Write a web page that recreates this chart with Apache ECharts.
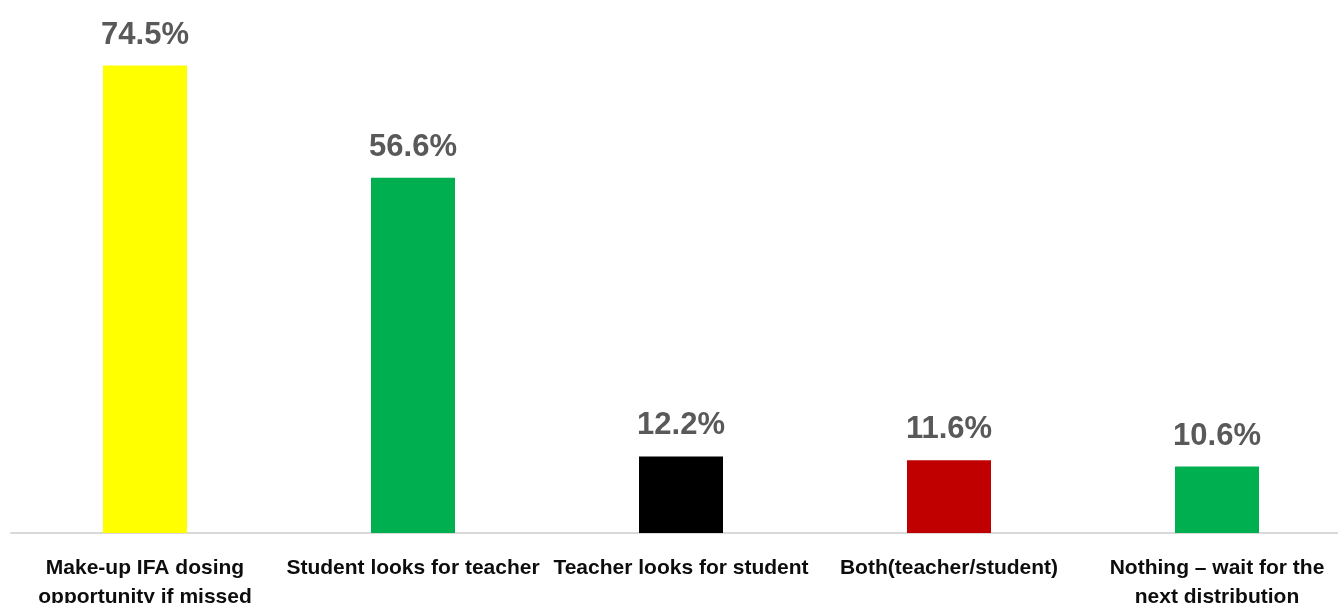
<!DOCTYPE html>
<html>
<head>
<meta charset="utf-8">
<script src="https://cdn.jsdelivr.net/npm/echarts@6/dist/echarts.min.js"></script>
<style>
  html, body { margin: 0; padding: 0; background: #ffffff; overflow: hidden; width: 1338px; height: 603px; }
  #chart { width: 1351px; height: 603px; }
</style>
</head>
<body>
<div id="chart"></div>
<script>
// Responses: what happens when an IFA dose is missed
const categories = [
  'Make-up IFA dosing\nopportunity if missed',
  'Student looks for teacher',
  'Teacher looks for student',
  'Both(teacher/student)',
  'Nothing \u2013 wait for the\nnext distribution'
];
const values = [74.5, 56.6, 12.2, 11.6, 10.6];
const barColors = ['#ffff00', '#00b050', '#000000', '#c00000', '#00b050'];

const chart = echarts.init(document.getElementById('chart'), null, { renderer: 'canvas' });

chart.setOption({
  animation: false,
  backgroundColor: '#ffffff',
  grid: { left: 11, top: 31, right: 0, height: 502, containLabel: false, outerBoundsMode: 'none' },
  xAxis: {
    type: 'category',
    data: categories,
    axisLine: { show: true, lineStyle: { color: '#d9d9d9', width: 2 } },
    axisTick: { show: false },
    axisLabel: {
      interval: 0,
      margin: 21,
      color: '#0d0d0d',
      fontFamily: 'Liberation Sans, Arial, sans-serif',
      fontWeight: 'bold',
      fontSize: 21,
      lineHeight: 29
    }
  },
  yAxis: {
    type: 'value',
    min: 0,
    max: 80,
    show: false,
    splitLine: { show: false }
  },
  series: [{
    type: 'bar',
    barWidth: 84,
    data: values.map((v, i) => ({ value: v, itemStyle: { color: barColors[i] } })),
    label: {
      show: true,
      position: 'top',
      distance: 15,
      formatter: p => p.value.toFixed(1) + '%',
      color: '#595959',
      fontFamily: 'Liberation Sans, Arial, sans-serif',
      fontWeight: 'bold',
      fontSize: 31
    }
  }]
});
</script>
</body>
</html>
